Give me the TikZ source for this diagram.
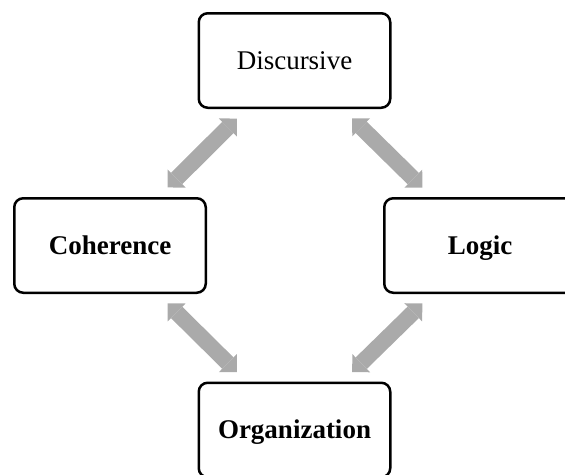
\documentclass[tikz,border=0pt]{standalone}
\usepackage{fontspec}
\setmainfont{Liberation Serif}
\usetikzlibrary{arrows.meta}
\definecolor{arrowgray}{RGB}{170,170,170}
\tikzset{
  box/.style={draw=black, line width=2.5pt, rounded corners=9pt, fill=white,
    minimum width=191.5pt, minimum height=94.5pt, inner sep=0pt,
    text height=20pt, text depth=3pt,
    font=\fontsize{27}{32}\selectfont},
  bigarrow/.style={draw=arrowgray, line width=16pt,
    {Triangle[angle=90:18pt, line width=0pt]}-{Triangle[angle=90:18pt, line width=0pt]},
    shorten <=13.5pt, shorten >=13.5pt}
}
\begin{document}
\begin{tikzpicture}[x=1pt,y=-1pt]
\useasboundingbox (0,0) rectangle (565,474);
\clip (0,0) rectangle (565,474);
\node[box] (disc) at (294.5,60.5) {Discursive};
\node[box] (coh) at (110,245.5) {\bfseries Coherence};
\node[box] (logic) at (480,245.5) {\bfseries Logic};
\node[box] (org) at (294.5,430) {\bfseries Organization};
\draw[bigarrow] ([xshift=-48pt]disc.south) -- ([xshift=48pt]coh.north);
\draw[bigarrow] ([xshift=48pt]disc.south) -- ([xshift=-48pt]logic.north);
\draw[bigarrow] ([xshift=48pt]coh.south) -- ([xshift=-48pt]org.north);
\draw[bigarrow] ([xshift=-48pt]logic.south) -- ([xshift=48pt]org.north);
\end{tikzpicture}
\end{document}
